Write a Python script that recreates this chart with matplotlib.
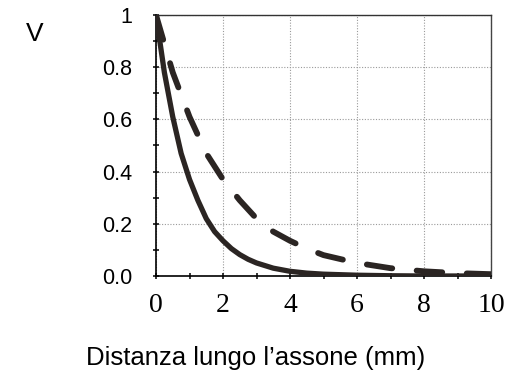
import matplotlib
matplotlib.use("Agg")
import matplotlib.pyplot as plt
from matplotlib.ticker import MultipleLocator, FixedLocator, FixedFormatter

# Data
x_solid = [0, 0.25, 0.5, 0.75, 1.0, 1.25, 1.5, 1.75, 2.0, 2.25, 2.5, 2.75, 3.0, 3.5, 4.0, 4.5, 5.0, 6.0, 7.0, 8.0, 9.0, 10.0]
v_solid = [1.0, 0.78, 0.61, 0.47, 0.37, 0.29, 0.22, 0.17, 0.135, 0.105, 0.082, 0.064, 0.05, 0.03, 0.018, 0.011, 0.007, 0.003, 0.001, 0.0, 0.0, 0.0]

x_dash = [0, 0.5, 1.0, 1.5, 2.0, 2.5, 3.0, 3.5, 4.0, 4.5, 5.0, 6.0, 7.0, 8.0, 9.0, 10.0]
v_dash = [1.0, 0.78, 0.61, 0.47, 0.37, 0.29, 0.22, 0.17, 0.135, 0.105, 0.08, 0.05, 0.03, 0.018, 0.011, 0.007]

x_ticks = [0, 2, 4, 6, 8, 10]
x_ticklabels = ["0", "2", "4", "6", "8", "10"]
y_ticks = [0.0, 0.2, 0.4, 0.6, 0.8, 1.0]
y_ticklabels = ["0.0", "0.2", "0.4", "0.6", "0.8", "1"]

ylabel_text = "V"
xlabel_text = "Distanza lungo l\u2019assone (mm)"

W, H = 512, 379
fig = plt.figure(figsize=(W / 100, H / 100), dpi=100)
fig.patch.set_facecolor("white")

left, right, top, bottom = 156, 491, 15, 276
ax = fig.add_axes([left / W, 1 - bottom / H, (right - left) / W, (bottom - top) / H])

curve_color = "#2b2523"
ax.plot(x_solid, v_solid, color=curve_color, lw=3.8, solid_capstyle="round",
        solid_joinstyle="round", zorder=3)
ax.plot(x_dash, v_dash, color=curve_color, lw=4.2, dashes=(4.4, 4.2),
        dash_capstyle="round", dash_joinstyle="round", zorder=3)

ax.set_xlim(0, 10)
ax.set_ylim(0, 1)

ax.xaxis.set_major_locator(FixedLocator(x_ticks))
ax.xaxis.set_major_formatter(FixedFormatter(x_ticklabels))
ax.xaxis.set_minor_locator(MultipleLocator(1))
ax.yaxis.set_major_locator(FixedLocator(y_ticks))
ax.yaxis.set_major_formatter(FixedFormatter(y_ticklabels))
ax.yaxis.set_minor_locator(MultipleLocator(0.1))

ax.grid(True, which="major", color="#9a9a9a", linestyle=(0, (1, 1.5)), lw=0.8, zorder=1)

ax.tick_params(axis="both", which="both", direction="inout", color="black", width=1.1)
ax.tick_params(axis="both", which="major", length=5)
ax.tick_params(axis="both", which="minor", length=4.5)
ax.tick_params(axis="x", which="major", pad=10, labelsize=20)
ax.tick_params(axis="y", which="major", pad=14.5, labelsize=15.5)
for lab in ax.get_xticklabels():
    lab.set_fontfamily("Liberation Serif")
for lab in ax.get_yticklabels():
    lab.set_fontfamily("Liberation Sans")

for s in ax.spines.values():
    s.set_color("black")
    s.set_linewidth(1.2)
ax.spines["top"].set_color("#333333")
ax.spines["right"].set_color("#444444")
ax.spines["top"].set_linewidth(1.0)
ax.spines["right"].set_linewidth(1.0)

fig.text(35 / W, 1 - 34 / H, ylabel_text, fontsize=19, family="Liberation Sans",
         ha="center", va="center")
fig.text(256 / W, 1 - 365 / H, xlabel_text, fontsize=18.5, family="Liberation Sans",
         ha="center", va="baseline")

fig.savefig("out.png", dpi=100, facecolor="white")
